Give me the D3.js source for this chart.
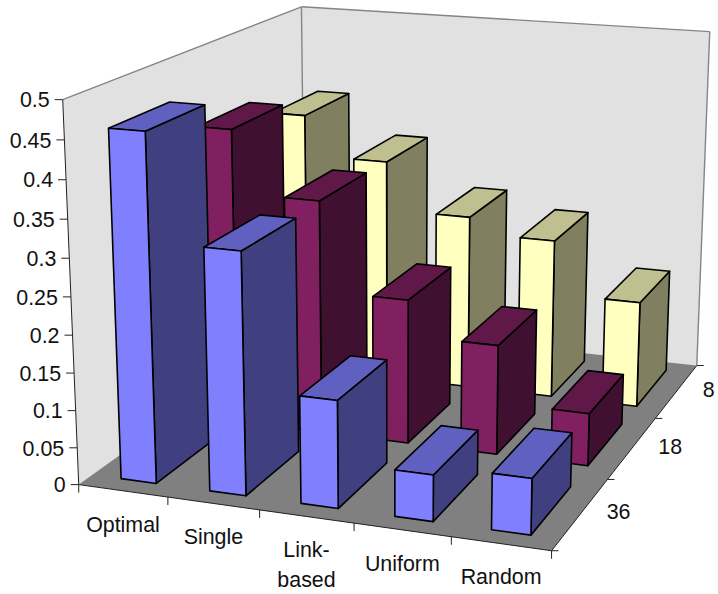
<!DOCTYPE html>
<html>
<head>
<meta charset="utf-8">
<style>
html,body{margin:0;padding:0;background:#fff;}
svg{display:block;}
text{font-family:"Liberation Sans",Arial,sans-serif;font-size:21.4px;fill:#111;}
</style>
<script src="https://cdn.jsdelivr.net/npm/d3@7"></script>
</head>
<body>
<svg id="chart" width="718" height="594"></svg>
<script>
const categories = ["Optimal", "Single", "Link-based", "Uniform", "Random"];
const depthLabels = ["36", "18", "8"];
const valueTicks = [0, 0.05, 0.1, 0.15, 0.2, 0.25, 0.3, 0.35, 0.4, 0.45, 0.5];

const series36 = [0.46, 0.32, 0.142, 0.061, 0.073];
const series18 = [0.411, 0.324, 0.2, 0.151, 0.072];
const series8 = [0.38, 0.322, 0.252, 0.229, 0.152];

const seriesColors = [
  { front: "#8080ff", top: "#6060c0", side: "#404080" },
  { front: "#802060", top: "#601848", side: "#401030" },
  { front: "#ffffc0", top: "#bfbf90", side: "#808060" }
];

// Unit-cube corners (category, depth, value) and where the plot box sits on the page.
const cameraAnchors = [
  [0, 0, 0, 79, 485],
  [0, 0, 1, 63, 99],
  [0, 1, 1, 301, 7],
  [1, 1, 1, 710, 32],
  [1, 1, 0, 697, 365],
  [1, 0, 0, 551, 551]
];

// Least-squares fit of a 3x4 projective camera with its last entry fixed at 1.
function fitCamera(anchors) {
  const rows = [], rhs = [];
  const k = 100;
  anchors.forEach(([u, v, w, x, y]) => {
    const X = x / k, Y = y / k;
    rows.push([u, v, w, 1, 0, 0, 0, 0, -X * u, -X * v, -X * w]); rhs.push(X);
    rows.push([0, 0, 0, 0, u, v, w, 1, -Y * u, -Y * v, -Y * w]); rhs.push(Y);
  });
  const n = 11;
  const A = d3.range(n).map(i => d3.range(n + 1).map(j =>
    j < n ? d3.sum(rows, r => r[i] * r[j]) : d3.sum(rows, (r, m) => r[i] * rhs[m])));
  for (let c = 0; c < n; c++) {
    let p = c;
    for (let r = c + 1; r < n; r++) if (Math.abs(A[r][c]) > Math.abs(A[p][c])) p = r;
    [A[c], A[p]] = [A[p], A[c]];
    for (let r = 0; r < n; r++) {
      if (r === c) continue;
      const f = A[r][c] / A[c][c];
      for (let j = c; j <= n; j++) A[r][j] -= f * A[c][j];
    }
  }
  const s = A.map((row, i) => row[n] / row[i]);
  return (u, v, w) => {
    const d = s[8] * u + s[9] * v + s[10] * w + 1;
    return [
      k * (s[0] * u + s[1] * v + s[2] * w + s[3]) / d,
      k * (s[4] * u + s[5] * v + s[6] * w + s[7]) / d
    ];
  };
}
const project = fitCamera(cameraAnchors);

const catScale = d3.scaleBand().domain(categories).range([0, 1]).paddingInner(0.6).paddingOuter(0.3125).align(0.524);
const catCell = d3.scaleBand().domain(categories).range([0, 1]);
const depthScale = d3.scaleBand().domain(depthLabels).range([0, 1]).paddingInner(0.32).paddingOuter(0.15);
const depthCell = d3.scaleBand().domain(depthLabels).range([0, 1]);
const valueScale = d3.scaleLinear().domain([0, 0.5]).range([0, 1]);

const svg = d3.select("#chart");
const outline = d3.line();
const facePath = corners => outline(corners.map(c => project(...c))) + "Z";

// Walls and floor of the plot box.
const walls = [
  { pts: [[0, 0, 0], [0, 0, 1], [0, 1, 1], [0, 1, 0]], fill: "#e1e1e1" },
  { pts: [[0, 1, 0], [0, 1, 1], [1, 1, 1], [1, 1, 0]], fill: "#e1e1e1" },
  { pts: [[0, 0, 0], [1, 0, 0], [1, 1, 0], [0, 1, 0]], fill: "#808080" }
];
svg.append("g").selectAll("path").data(walls).join("path")
  .attr("d", d => facePath(d.pts)).attr("fill", d => d.fill);

const wallEdges = [
  [[0, 0, 1], [0, 1, 1]], [[0, 1, 1], [1, 1, 1]], [[1, 1, 1], [1, 1, 0]], [[0, 1, 1], [0, 1, 0]]
];
svg.append("g").selectAll("path").data(wallEdges).join("path")
  .attr("d", d => outline(d.map(c => project(...c))))
  .attr("fill", "none").attr("stroke", "#858585").attr("stroke-width", 1.4);

const axisEdges = [
  [[0, 0, 0], [0, 0, 1]], [[0, 0, 0], [1, 0, 0]], [[1, 0, 0], [1, 1, 0]]
];
svg.append("g").selectAll("path").data(axisEdges).join("path")
  .attr("d", d => outline(d.map(c => project(...c))))
  .attr("fill", "none").attr("stroke", "#222").attr("stroke-width", 1);

// Tick marks and labels along the three axes.
const tickGroup = svg.append("g").attr("stroke", "#222").attr("stroke-width", 1);
const labelGroup = svg.append("g");

valueTicks.forEach(t => {
  const [x, y] = project(0, 0, valueScale(t));
  tickGroup.append("line").attr("x1", x - 8).attr("x2", x).attr("y1", y).attr("y2", y);
  labelGroup.append("text").attr("x", x - 13).attr("y", y).attr("dy", "0.36em")
    .attr("text-anchor", "end").text(t);
});

d3.range(categories.length + 1).forEach(i => {
  const [x, y] = project(i / categories.length, 0, 0);
  tickGroup.append("line").attr("x1", x).attr("x2", x).attr("y1", y).attr("y2", y + 8);
});
categories.forEach(c => {
  const [x, y] = project(catCell(c) + catCell.bandwidth() / 2, 0, 0);
  const lines = c === "Link-based" ? ["Link-", "based"] : [c];
  lines.forEach((line, i) => {
    labelGroup.append("text").attr("x", x).attr("y", y + 33 + i * 30).attr("dy", "0.36em")
      .attr("text-anchor", "middle").text(line);
  });
});

d3.range(depthLabels.length + 1).forEach(i => {
  const [x, y] = project(1, i / depthLabels.length, 0);
  tickGroup.append("line").attr("x1", x).attr("x2", x + 7).attr("y1", y).attr("y2", y);
});
depthLabels.forEach(d => {
  const [x, y] = project(1, depthCell(d) + depthCell.bandwidth() / 2, 0);
  labelGroup.append("text").attr("x", x + 26).attr("y", y - 2).attr("dy", "0.36em").text(d);
});

// Bars are painted back row first, then left to right, so nearer ones cover farther ones.
const rows = [
  { key: "8", values: series8, colors: seriesColors[2] },
  { key: "18", values: series18, colors: seriesColors[1] },
  { key: "36", values: series36, colors: seriesColors[0] }
];
const barGroup = svg.append("g").attr("stroke", "#000").attr("stroke-width", 1.6).attr("stroke-linejoin", "round");
rows.forEach(row => {
  row.values.forEach((value, i) => {
    const u0 = catScale(categories[i]), u1 = u0 + catScale.bandwidth();
    const v0 = depthScale(row.key), v1 = v0 + depthScale.bandwidth();
    const h = valueScale(value);
    const bar = barGroup.append("g");
    bar.append("path").attr("fill", row.colors.side)
      .attr("d", facePath([[u1, v0, 0], [u1, v1, 0], [u1, v1, h], [u1, v0, h]]));
    bar.append("path").attr("fill", row.colors.top)
      .attr("d", facePath([[u0, v0, h], [u1, v0, h], [u1, v1, h], [u0, v1, h]]));
    bar.append("path").attr("fill", row.colors.front)
      .attr("d", facePath([[u0, v0, 0], [u1, v0, 0], [u1, v0, h], [u0, v0, h]]));
  });
});
</script>
</body>
</html>
